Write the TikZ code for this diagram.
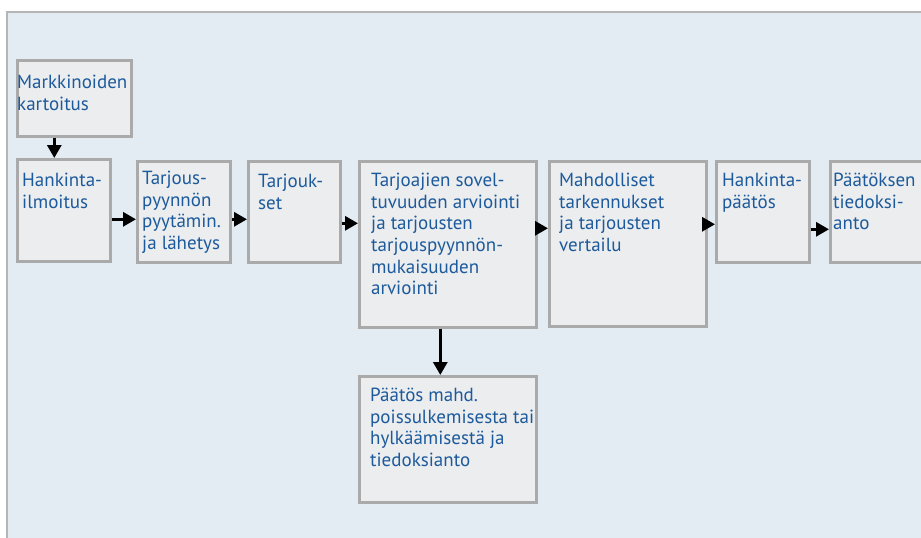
\documentclass[tikz,border=0pt]{standalone}
\usepackage{fontspec}
\setmainfont{PT Sans}
\usetikzlibrary{arrows.meta,calc}
\definecolor{panelbg}{HTML}{E3EBF3}
\definecolor{boxbg}{HTML}{EBEDEE}
\definecolor{boxline}{HTML}{AAAAAA}
\definecolor{frameline}{HTML}{B5B5B5}
\definecolor{txtblue}{HTML}{1D5A9C}
\begin{document}
\begin{tikzpicture}[x=1pt,y=-1pt,
  stepbox/.style={draw=boxline,fill=boxbg,line width=2.6pt,rectangle,inner sep=0pt,anchor=north west},
  % the strut fixes the first baseline 15.19pt below the node top
  label/.style={anchor=north west,inner sep=0pt,text=txtblue,align=left,
    font=\fontsize{19}{21.7}\selectfont,execute at begin node=\strut},
  arr/.style={line width=3pt,-{Triangle[length=13pt,width=14pt]}}]
\useasboundingbox (0,0) rectangle (921,538);
% panel
\fill[panelbg] (7,12) rectangle (921,538);
\draw[frameline,line width=2pt] (7,538) -- (7,12) -- (921,12);
% boxes
\node[stepbox,minimum width=114pt,minimum height=76pt] (mark) at (16,59) {};
\node[stepbox,minimum width=93pt,minimum height=102pt] (hank) at (16,158) {};
\node[stepbox,minimum width=93pt,minimum height=101pt] (pyyn) at (136,160) {};
\node[stepbox,minimum width=92pt,minimum height=101pt] (tarj) at (247,160) {};
\node[stepbox,minimum width=177pt,minimum height=166pt] (arvi) at (358,160) {};
\node[stepbox,minimum width=157pt,minimum height=165pt] (mahd) at (548,160) {};
\node[stepbox,minimum width=93pt,minimum height=101pt] (hpaat) at (715,160) {};
\node[stepbox,minimum width=101pt,minimum height=101pt] (tied) at (829,160) {};
\node[stepbox,minimum width=177pt,minimum height=126pt] (hylk) at (358,375) {};
% texts (node top = first baseline - 15.19)
\node[label] (markt) at (17,74.8) {Markkinoiden\\kartoitus};
\node[label] (hankt) at (22,172.8) {Hankinta-\\ilmoitus};
\node[label] (pyynt) at (142,170.8) {Tarjous-\\pyynnön\\pyytämin.\\ja lähetys};
\node[label] (tarjt) at (258,173.8) {Tarjouk-\\set};
\node[label] (arvit) at (371,172.8) {Tarjoajien sovel-\\tuvuuden arviointi\\ja tarjousten\\tarjouspyynnön-\\mukaisuuden\\arviointi};
\node[label] (mahdt) at (559,172.8) {Mahdolliset\\tarkennukset\\ja tarjousten\\vertailu};
\node[label] (hpaatt) at (722,172.8) {Hankinta-\\päätös};
\node[label] (tiedt) at (833,172.8) {Päätöksen\\tiedoksi-\\anto};
\node[label] (hylkt) at (370,387.8) {Päätös mahd.\\poissulkemisesta tai\\hylkäämisestä ja\\tiedoksianto};
% connectors
\draw[arr] ([xshift=-20pt]mark.south) -- ([xshift=-9.5pt]hank.north);
\draw[arr] ([yshift=-9pt]hank.east) -- ([yshift=-7.5pt]pyyn.west);
\draw[arr] ([yshift=-7.5pt]pyyn.east) -- ([yshift=-7.5pt]tarj.west);
\draw[arr] ([yshift=-11.5pt]tarj.east) -- ([yshift=21pt]arvi.west);
\draw[arr] ([yshift=16pt]arvi.east) -- ([yshift=15.5pt]mahd.west);
\draw[arr] ([yshift=19.5pt]mahd.east) -- ([yshift=-12.5pt]hpaat.west);
\draw[arr] ([yshift=-17.5pt]hpaat.east) -- ([yshift=-17.5pt]tied.west);
\draw[arr] ([xshift=-7.5pt]arvi.south) -- ([xshift=-7.5pt]hylk.north);
\end{tikzpicture}
\end{document}
